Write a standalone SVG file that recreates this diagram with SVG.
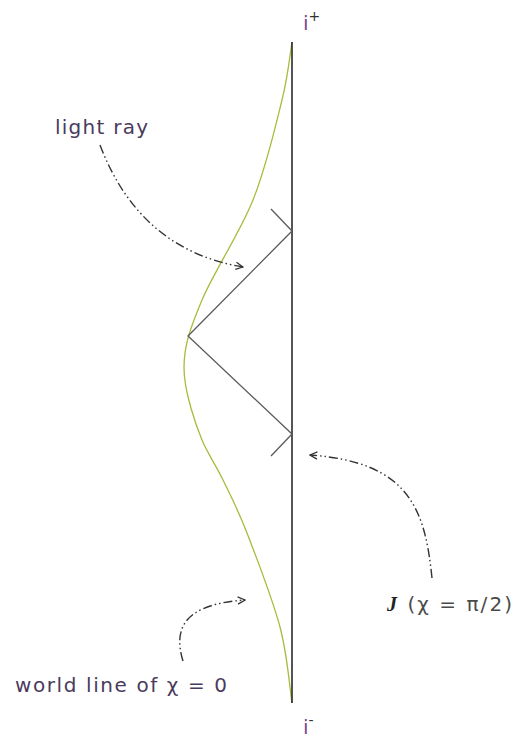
<svg xmlns="http://www.w3.org/2000/svg" width="524" height="741" viewBox="0 0 524 741">
  <defs>
    <marker id="chev" viewBox="0 0 10 10" refX="9" refY="5" markerWidth="9" markerHeight="9" markerUnits="userSpaceOnUse" orient="auto">
      <path d="M1,1 L9,5 L1,9" fill="none" stroke="#333" stroke-width="1.4"/>
    </marker>
  </defs>
  <style>
    .lbl { font-family: "DejaVu Sans", Verdana, sans-serif; font-size: 20px; fill: #4a3b5c; }
    .sup { font-family: "DejaVu Sans", Verdana, sans-serif; fill: #7b4b8e; }
    .ray { stroke: #5a5a5a; stroke-width: 1.3; fill: none; }
    .conn { stroke: #333; stroke-width: 1.4; fill: none; stroke-dasharray: 9 3 1.5 3 1.5 3; marker-end: url(#chev); }
  </style>
  <rect width="524" height="741" fill="#ffffff"/>

  <g id="worldline">
    <path d="M292,42 C290.3,51.7 288.5,73.7 282,100 C275.5,126.3 266.3,166.7 253,200 C239.7,233.3 213.5,272.5 202,300 C190.5,327.5 184,345 184,368 C184,392 196.5,426.7 202,440 C207.5,453.3 215.5,464.5 223,480 C230.5,495.5 237.5,508.5 247,533 C256.5,557.5 272.5,598.7 280,627 C287.5,655.3 290,690.3 292,703" fill="none" stroke="#a8bb3c" stroke-width="1.3"/>
  </g>

  <g id="scri-boundary">
    <line x1="292" y1="42" x2="292" y2="703" stroke="#2a2a2a" stroke-width="1.6"/>
  </g>

  <g id="light-ray">
    <polyline class="ray" points="292,231 188,336 292,434"/>
    <line class="ray" x1="292" y1="231" x2="271" y2="209"/>
    <line class="ray" x1="292" y1="434" x2="271" y2="456"/>
  </g>

  <g id="i-plus">
    <text class="sup" x="303" y="30" font-size="20">i<tspan fill="#333" font-size="14" dy="-9">+</tspan></text>
  </g>
  <g id="i-minus">
    <text class="sup" x="303" y="734" font-size="20">i<tspan fill="#333" font-size="14" dy="-9">-</tspan></text>
  </g>

  <g id="label-light-ray">
    <text class="lbl" x="55" y="134" textLength="93" lengthAdjust="spacing">light ray</text>
  </g>
  <g id="label-scri">
    <text x="387" y="611" font-family="'DejaVu Sans', Verdana, sans-serif" font-size="20" fill="#4a4a4a" textLength="125" lengthAdjust="spacing"><tspan font-family="'Liberation Serif', serif" font-weight="bold" font-style="italic" fill="#222">J</tspan> (χ = π/2)</text>
  </g>
  <g id="label-worldline">
    <text class="lbl" x="15" y="692" textLength="212" lengthAdjust="spacing">world line of χ = 0</text>
  </g>

  <g id="connectors">
    <path class="conn" d="M100,145 Q140,250 243,267"/>
    <path class="conn" d="M432,578 C425,510 410,462 310,455"/>
    <path class="conn" d="M183,661 C172,625 188,604 245,600"/>
  </g>
</svg>
